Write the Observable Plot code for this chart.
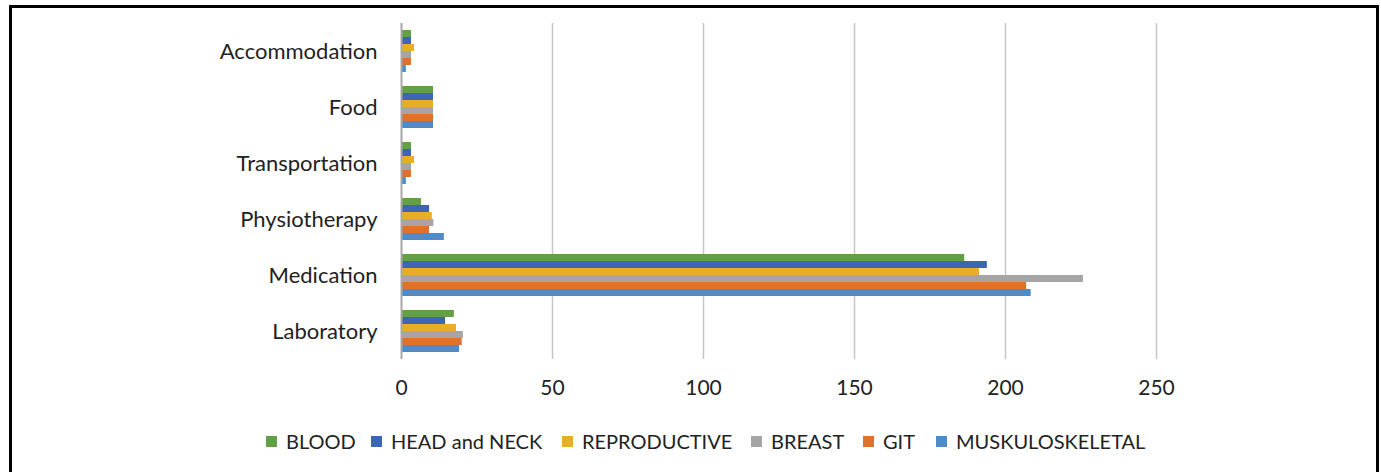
<!DOCTYPE html>
<html>
<head>
<meta charset="utf-8">
<script src="https://cdn.jsdelivr.net/npm/d3@7"></script>
<script src="https://cdn.jsdelivr.net/npm/@observablehq/plot@0.6"></script>
<style>
  html, body { margin: 0; padding: 0; background: #fff; }
  #wrap { position: relative; width: 1381px; height: 472px; overflow: hidden; font-family: Lato, "Open Sans", sans-serif; }
  #frame { position: absolute; left: 9px; top: 5px; width: 1370px; height: 480px; border: 3px solid #000; border-bottom: none; box-sizing: border-box; pointer-events: none; }
  #chart { position: absolute; left: 0; top: 0; }
  #legend { position: absolute; left: 0; top: 428px; width: 1381px; height: 26px; }
  .item { position: absolute; top: 0; display: flex; align-items: center; height: 26px; font-size: 20px; color: #222; white-space: nowrap; }
  .sw { width: 11px; height: 11px; margin-right: 9px; }
</style>
</head>
<body>
<div id="wrap">
  <div id="chart"></div>
  <div id="legend"></div>
  <div id="frame"></div>
</div>
<script>
const categories = ["Accommodation", "Food", "Transportation", "Physiotherapy", "Medication", "Laboratory"];
const series = ["BLOOD", "HEAD and NECK", "REPRODUCTIVE", "BREAST", "GIT", "MUSKULOSKELETAL"];
const blood        = [3.3, 10.6, 3.3, 6.6, 186.5, 17.5];
const headNeck     = [3.3, 10.6, 3.3, 9.3, 194.0, 14.6];
const reproductive = [4.3, 10.6, 4.3, 10.2, 191.4, 18.2];
const breast       = [3.3, 10.6, 3.3, 10.7, 225.8, 20.5];
const git          = [3.3, 10.6, 3.3, 9.3, 207.0, 20.1];
const musk         = [1.6, 10.6, 1.6, 14.2, 208.5, 19.2];
const xTicks = [0, 50, 100, 150, 200, 250];
const colors = ["#62a046", "#3c65b5", "#e8ae25", "#a5a5a5", "#e0712b", "#4e8bc8"];

const valuesBySeries = [blood, headNeck, reproductive, breast, git, musk];
const data = series.flatMap((s, si) => categories.map((c, ci) => ({series: s, category: c, value: valuesBySeries[si][ci]})));

const chart = Plot.plot({
  width: 1381,
  height: 410,
  marginLeft: 401,
  marginRight: 225,
  marginTop: 23,
  marginBottom: 51,
  style: {fontFamily: "Lato, 'Open Sans', sans-serif", color: "#222", background: "transparent"},
  x: {domain: [0, 250], label: null},
  fy: {domain: categories, padding: 0, label: null, axis: null},
  y: {domain: series, paddingInner: 0.06, paddingOuter: 1.0, axis: null},
  color: {domain: series, range: colors},
  marks: [
    Plot.ruleX(xTicks.slice(1), {stroke: "#c6c6c6", strokeWidth: 1.5}),
    Plot.barX(data, {x: "value", y: "series", fy: "category", fill: "series"}),
    Plot.ruleX([0], {stroke: "#a6a6a6", strokeWidth: 2}),
    Plot.axisX({ticks: xTicks, tickSize: 0, tickPadding: 21, fontSize: 21, fill: "#222", label: null}),
    Plot.axisFy({anchor: "left", tickSize: 0, tickPadding: 24, fontSize: 22, fill: "#222", label: null})
  ]
});
document.getElementById("chart").appendChild(chart);

const legendX = [266, 371, 562, 751, 863, 936];
const legend = document.getElementById("legend");
series.forEach((s, i) => {
  const item = document.createElement("div");
  item.className = "item";
  item.style.left = legendX[i] + "px";
  const sw = document.createElement("span");
  sw.className = "sw";
  sw.style.background = colors[i];
  const t = document.createElement("span");
  t.textContent = s;
  item.appendChild(sw);
  item.appendChild(t);
  legend.appendChild(item);
});
</script>
</body>
</html>
